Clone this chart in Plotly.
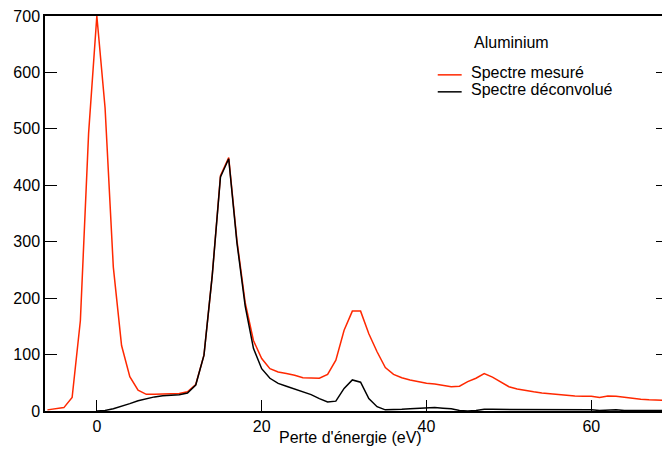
import plotly.graph_objects as go

# energy loss axis (eV), 1 eV steps
energy_measured = list(range(-6, 70))
measured = [
    2, 4, 6, 24, 160, 492, 700, 537, 255, 116, 61, 37,
    29.5, 29.5, 30, 30, 31, 34, 47, 99, 240, 417, 449, 302, 192, 125,
    93, 75, 69, 66.5, 63.5, 59, 58, 58, 65, 90, 143, 177, 177, 137,
    105, 77, 65, 59, 55, 52, 49, 48, 45, 43, 44, 52, 58, 66.5, 60, 52,
    43, 39, 36, 34, 32, 30.5, 29, 28, 26.5, 26, 26, 24, 26.5, 26, 24, 22,
    21, 20, 19, 19,
]

energy_deconv = list(range(0, 70))
deconvolved = [
    0, 1, 4, 8, 13, 18, 22, 25, 27, 28, 29, 32, 46, 99, 240, 415, 447,
    298, 186, 111, 75, 58, 49, 44, 39, 34, 29, 22, 16, 17.5, 40, 55, 51,
    22, 7.6, 2, 2, 3, 4, 5, 6, 6, 5, 4, 1, 0, 1, 3, 3, 3, 3, 2, 2, 2, 3,
    3, 2, 2, 2, 2, 2, 1, 2, 2, 1, 1, 1, 2, 1, 1,
]

series_names = ["Spectre mesuré", "Spectre déconvolué"]
series_colors = ["rgb(255,40,0)", "black"]

font = "Liberation Sans, Arial, sans-serif"

fig = go.Figure()
fig.add_trace(go.Scatter(
    x=energy_measured, y=measured, mode="lines", name=series_names[0],
    line=dict(color=series_colors[0], width=1.5),
))
fig.add_trace(go.Scatter(
    x=energy_deconv, y=deconvolved, mode="lines", name=series_names[1],
    line=dict(color=series_colors[1], width=1.5),
))

# compact hand-made legend (tighter line spacing than plotly's own)
annotations = [dict(
    text="Aluminium", x=0.685, y=0.932, xref="paper", yref="paper",
    xanchor="left", yanchor="middle", showarrow=False,
)]
shapes = []
for i, (name, col) in enumerate(zip(series_names, series_colors)):
    ty = 0.856 - i * 0.043
    annotations.append(dict(
        text=name, x=0.68, y=ty, xref="paper", yref="paper",
        xanchor="left", yanchor="middle", showarrow=False,
    ))
    shapes.append(dict(
        type="line", xref="paper", yref="paper",
        x0=0.6304, x1=0.6688, y0=ty - 0.005, y1=ty - 0.005,
        line=dict(color=col, width=1.5),
    ))

# x axis title placed slightly left of centre, like the original
annotations.append(dict(
    text="Perte d'énergie (eV)", x=0.49, y=-0.068, xref="paper", yref="paper",
    xanchor="center", yanchor="middle", showarrow=False,
))

fig.update_layout(
    width=662, height=443,
    margin=dict(l=37, r=0, t=7, b=40),
    paper_bgcolor="white", plot_bgcolor="white",
    font=dict(family=font, size=16, color="black"),
    showlegend=False,
    annotations=annotations,
    shapes=shapes,
)
fig.update_xaxes(
    range=[-6.29, 69.3], tickvals=[0, 20, 40, 60],
    ticks="inside", ticklen=11, tickwidth=1, tickcolor="black",
    showline=True, linecolor="black", linewidth=1.5, mirror=True,
    showgrid=False, zeroline=False, ticklabeloverflow="allow",
)
fig.update_yaxes(
    range=[0, 700], tickvals=[0, 100, 200, 300, 400, 500, 600, 700],
    ticks="inside", ticklen=12, tickwidth=1, tickcolor="black",
    showline=True, linecolor="black", linewidth=1.5, mirror="ticks",
    showgrid=False, zeroline=False, ticklabeloverflow="allow",
)

fig.write_html("out.html")
